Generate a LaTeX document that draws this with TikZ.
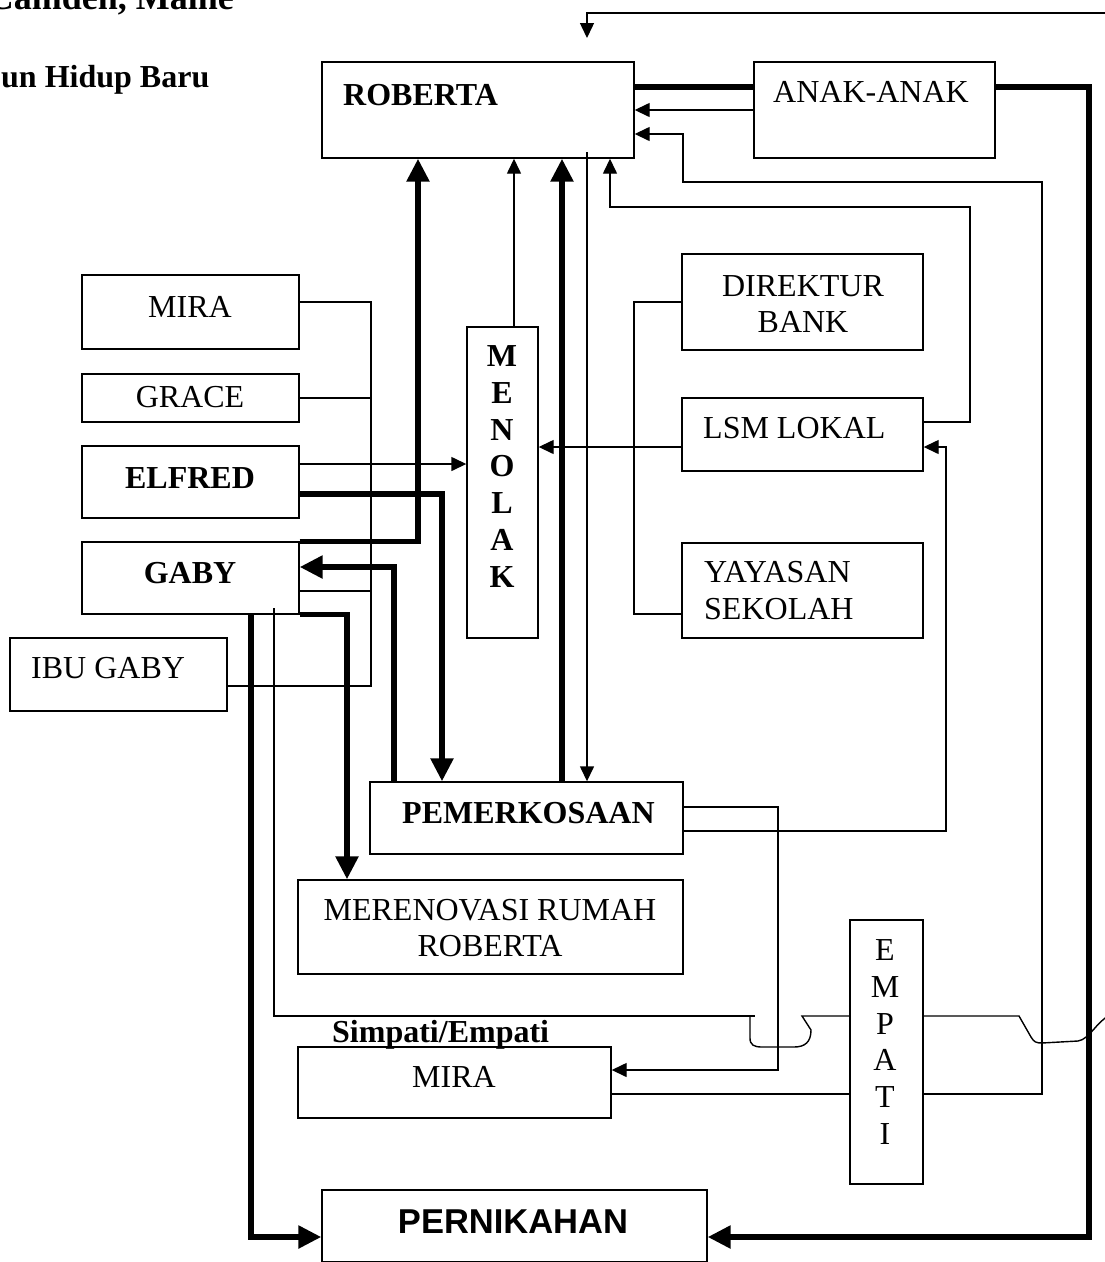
\documentclass[tikz,border=0pt]{standalone}
\usepackage{fontspec}
\setmainfont{Liberation Serif}
\newfontfamily\arialfont{Liberation Sans}
\usetikzlibrary{arrows.meta}
\begin{document}
\begin{tikzpicture}[x=1pt,y=-1pt,
  box/.style={draw, line width=1.4pt, inner sep=0pt},
  lbl/.style={inner sep=0pt, font=\fontsize{32}{36.8}\selectfont},
  blbl/.style={inner sep=0pt, font=\bfseries\fontsize{32}{36.8}\selectfont},
  thinline/.style={line width=1.4pt},
  thinarrow/.style={line width=1.4pt, -{Triangle[length=15pt,width=14pt]}},
  thickline/.style={line width=5.5pt},
  thickarrow/.style={line width=5.5pt, -{Triangle[length=23pt,width=22pt]}},
]
\useasboundingbox (0,0) rectangle (1105,1262);

% titles
\node[inner sep=0pt, font=\bfseries\fontsize{36}{40}\selectfont, anchor=base east] (title1) at (234,9) {Camden, Maine};
\node[blbl, anchor=base west] (title2) at (1,87) {un Hidup Baru};

% boxes
\node[box, minimum width=312pt, minimum height=96pt] (rob) at (478,110) {};
\node[blbl, anchor=west] (trob) at (343,95) {ROBERTA};
\node[box, minimum width=241pt, minimum height=96pt] (anak) at (874.5,110) {};
\node[lbl] (tanak) at (871,92) {ANAK-ANAK};
\node[box, minimum width=217pt, minimum height=74pt] (mira1) at (190.5,312) {};
\node[lbl] (tmira1) at (190,307) {MIRA};
\node[box, minimum width=217pt, minimum height=48pt] (grace) at (190.5,398) {};
\node[lbl] (tgrace) at (190,397) {GRACE};
\node[box, minimum width=217pt, minimum height=72pt] (elfred) at (190.5,482) {};
\node[blbl] (telfred) at (190,478) {ELFRED};
\node[box, minimum width=217pt, minimum height=72pt] (gaby) at (190.5,578) {};
\node[blbl] (tgaby) at (190,573) {GABY};
\node[box, minimum width=217pt, minimum height=73pt] (ibu) at (118.5,674.5) {};
\node[lbl, anchor=west] (tibu) at (31,668) {IBU GABY};
\node[box, minimum width=71pt, minimum height=311pt] (menolak) at (502.5,482.5) {};
\node[blbl, align=center] (tmenolak) at (502,466.5) {M\\E\\N\\O\\L\\A\\K};
\node[box, minimum width=241pt, minimum height=96pt] (direktur) at (802.5,302) {};
\node[lbl, align=center] (tdirektur) at (803,304) {DIREKTUR\\BANK};
\node[box, minimum width=241pt, minimum height=73pt] (lsm) at (802.5,434.5) {};
\node[lbl, anchor=west] (tlsm) at (703,428) {LSM LOKAL};
\node[box, minimum width=241pt, minimum height=95pt] (yayasan) at (802.5,590.5) {};
\node[lbl, align=left, anchor=west] (tyayasan) at (704,590.5) {YAYASAN\\SEKOLAH};
\node[box, minimum width=313pt, minimum height=72pt] (pemer) at (526.5,818) {};
\node[blbl, anchor=west] (tpemer) at (402,813) {PEMERKOSAAN};
\node[box, minimum width=385pt, minimum height=94pt] (meren) at (490.5,927) {};
\node[lbl, align=center] (tmeren) at (490,928) {MERENOVASI RUMAH\\ROBERTA};
\node[blbl, anchor=base west] (tsimpati) at (332,1042) {Simpati/Empati};
\node[box, minimum width=313pt, minimum height=71pt] (mira2) at (454.5,1082.5) {};
\node[lbl] (tmira2) at (454,1077) {MIRA};
\node[box, minimum width=73pt, minimum height=264pt] (empati) at (886.5,1052) {};
\node[lbl, align=center] (tempati) at (885,1042) {E\\M\\P\\A\\T\\I};
\node[box, minimum width=385pt, minimum height=72pt] (pernik) at (514.5,1226) {};
\node[inner sep=0pt, font=\arialfont\bfseries\fontsize{34.5}{38}\selectfont] (tpernik) at (513,1222) {PERNIKAHAN};

% free ends
\coordinate (topR) at (1110,13);
\coordinate (topT) at (587,38);
\coordinate (r1) at (587,152);
\coordinate (g1) at (274,608);
\coordinate (offR) at (1110,1015);

% thick connectors
\draw[thickline] (rob.east |- 0,87) -- (anak.west |- 0,87);
\draw[thickarrow] (anak.east |- 0,87) -| (1089,1237) -- (pernik.east |- 0,1237);
\draw[thickarrow] (gaby.south -| 251,0) |- (pernik.west |- 0,1237);
\draw[thickarrow] (gaby.north east) -| (rob.south -| 418,0);
\draw[thickarrow] (pemer.north -| 394,0) |- (gaby.east |- 0,567);
\draw[thickarrow] (elfred.east |- 0,494) -| (pemer.north -| 442,0);
\draw[thickarrow] (pemer.north -| 562,0) -- (rob.south -| 562,0);
\draw[thickarrow] (gaby.south east) -| (meren.north -| 347,0);

% thin connectors
\draw[thinarrow] (topR) -| (topT);
\draw[thinarrow] (anak.west |- 0,110) -- (rob.east |- 0,110);
\draw[thinarrow] (empati.east |- 0,1094) -| (1042,182) -| (683,134) -- (rob.east |- 0,134);
\draw[thinarrow] (lsm.east |- 0,422) -| (970,207) -| (rob.south -| 610,0);
\draw[thinarrow] (menolak.north -| 514,0) -- (rob.south -| 514,0);
\draw[thinarrow] (r1) -- (pemer.north -| 587,0);
\draw[thinline] (mira1.east |- 0,302) -| (371,686) -- (ibu.east |- 0,686);
\draw[thinline] (grace.east |- 0,398) -- (371,398);
\draw[thinline] (gaby.east |- 0,591) -- (371,591);
\draw[thinarrow] (elfred.east |- 0,464) -- (menolak.west |- 0,464);
\draw[thinarrow] (lsm.west |- 0,447) -- (menolak.east |- 0,447);
\draw[thinline] (direktur.west |- 0,302) -| (634,614) -- (yayasan.west |- 0,614);
\draw[thinarrow] (pemer.east |- 0,831) -| (946,447) -- (lsm.east |- 0,447);
\draw[thinarrow] (pemer.east |- 0,807) -| (778,1070) -- (mira2.east |- 0,1070);
\draw[thinline] (mira2.east |- 0,1094) -- (empati.west |- 0,1094);
\draw[thinline] (g1) |- (754.6,1016);
\draw[thinline] (750,1016) -- (750,1038) .. controls (750,1045) and (754,1047) .. (762,1047)
  -- (794,1047) .. controls (805,1047) and (811,1042) .. (811,1030) -- (802,1016) -- (empati.west |- 0,1016);
\draw[thinline] (empati.east |- 0,1016) -- (1019,1016) -- (1031,1037)
  .. controls (1034,1042) and (1036,1043) .. (1042,1043) -- (1078,1041)
  .. controls (1090,1039) and (1096,1022) .. (offR);
\end{tikzpicture}
\end{document}
